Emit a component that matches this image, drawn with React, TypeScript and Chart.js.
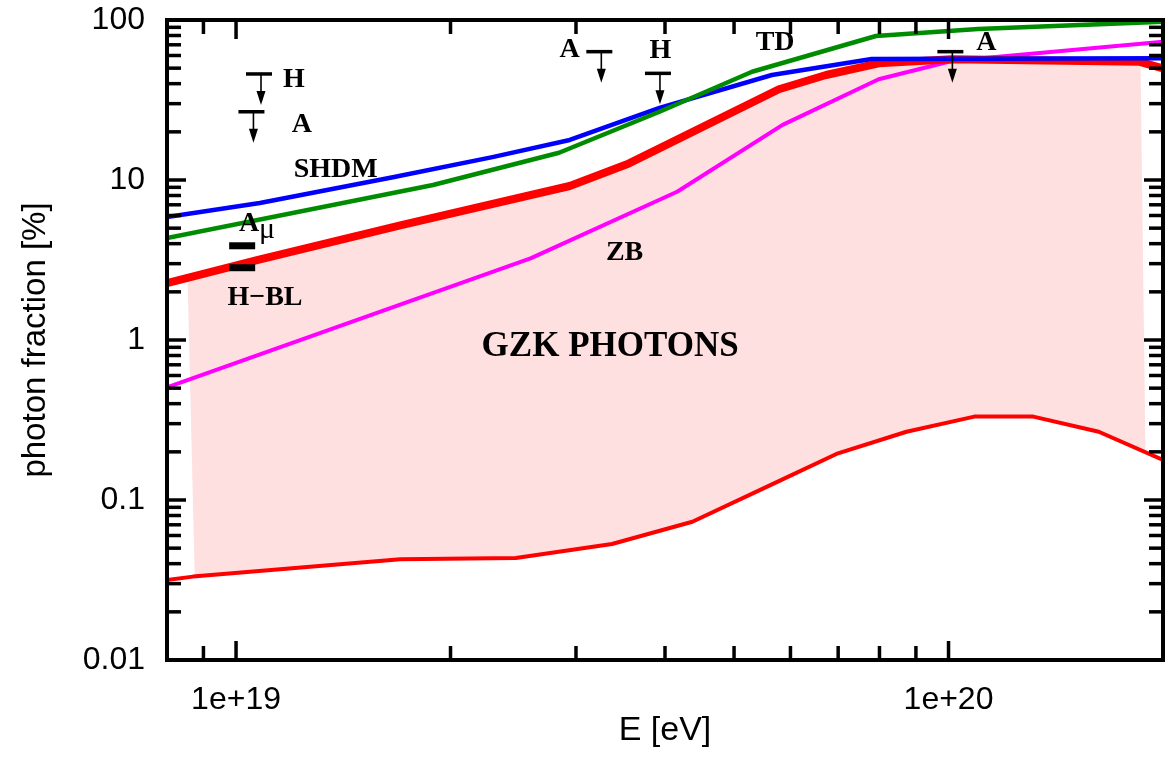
import React, { useEffect, useRef } from 'react';
import { Chart, registerables } from 'chart.js';

Chart.register(...registerables);

// ---- axis ranges / ticks ----
const xMin = 8e18;
const xMax = 2e20;
const yMin = 0.01;
const yMax = 100;
const xTickValues = [1e19, 1e20];
const xTickLabels = ['1e+19', '1e+20'];
const xMinorTicks = [9e18, 2e19, 3e19, 4e19, 5e19, 6e19, 7e19, 8e19, 9e19];
const yTickValues = [0.01, 0.1, 1, 10, 100];
const yTickLabels = ['0.01', '0.1', '1', '10', '100'];
const yMinorTicks = [
  0.02, 0.03, 0.04, 0.05, 0.06, 0.07, 0.08, 0.09,
  0.2, 0.3, 0.4, 0.5, 0.6, 0.7, 0.8, 0.9,
  2, 3, 4, 5, 6, 7, 8, 9,
  20, 30, 40, 50, 60, 70, 80, 90,
];

// ---- series (E in eV, photon fraction in %) ----
const shdmE = [8.0e18, 1.08e19, 1.66e19, 2.29e19, 2.94e19, 3.93e19, 5.65e19, 7.8e19, 2.0e20];
const shdmF = [5.87, 7.18, 10.4, 13.9, 17.8, 28.2, 45.3, 57.0, 57.6];

const tdE = [8.0e18, 1.89e19, 2.84e19, 3.93e19, 5.3e19, 7.91e19, 1.1e20, 2.0e20];
const tdF = [4.34, 9.31, 14.8, 26.7, 47.5, 79.4, 88.0, 97.6];

const gzkUpperE = [8.0e18, 1.07e19, 1.7e19, 2.94e19, 3.56e19, 5.78e19, 6.73e19, 7.98e19, 1.01e20, 1.85e20, 2.0e20];
const gzkUpperF = [2.27, 3.16, 5.2, 9.17, 12.7, 36.9, 45.3, 53.6, 56.8, 54.9, 49.9];

const zbE = [8.0e18, 2.59e19, 4.16e19, 5.85e19, 7.98e19, 1.01e20, 2.0e20];
const zbF = [0.505, 3.24, 8.45, 22.1, 42.6, 55.4, 73.1];

const gzkLowerE = [8.0e18, 8.7e18, 1.7e19, 2.47e19, 3.37e19, 4.37e19, 5.71e19, 6.96e19, 8.73e19, 1.087e20, 1.315e20, 1.625e20, 2.0e20];
const gzkLowerF = [0.0316, 0.0332, 0.0426, 0.0434, 0.0531, 0.0731, 0.128, 0.194, 0.267, 0.332, 0.332, 0.267, 0.178];

// shaded GZK band outline (upper edge left->right, lower edge right->left)
const bandE = [8.55e18, 1.07e19, 1.7e19, 2.94e19, 3.56e19, 5.78e19, 6.73e19, 7.98e19, 1.01e20, 1.86e20,
  1.89e20, 1.625e20, 1.315e20, 1.087e20, 8.73e19, 6.96e19, 5.71e19, 4.37e19, 3.37e19, 2.47e19, 1.7e19, 8.75e18];
const bandF = [2.4, 3.16, 5.2, 9.17, 12.7, 36.9, 45.3, 53.6, 56.8, 54.9,
  0.2, 0.267, 0.332, 0.332, 0.267, 0.194, 0.128, 0.0731, 0.0531, 0.0434, 0.0426, 0.0335];

// ---- experimental upper limits ----
const limitE = [1.077e19, 1.051e19, 3.235e19, 3.91e19, 1.006e20];
const limitF = [46.0, 26.7, 63.4, 46.4, 63.4];
const boxLimitE = [1.02e19, 1.02e19];
const boxLimitF = [3.88, 2.83];

// ---- text labels ----
const labelText = ['H', 'A', 'SHDM', 'H\u2212BL', 'A', 'H', 'TD', 'A', 'ZB'];
const labelE = [1.206e19, 1.237e19, 1.38e19, 1.098e19, 2.94e19, 3.94e19, 5.71e19, 1.13e20, 3.51e19];
const labelF = [42.2, 22.1, 11.55, 1.83, 64.9, 64.0, 71.8, 71.8, 3.5];
const bigLabelText = 'GZK PHOTONS';
const bigLabelE = 3.35e19;
const bigLabelF = 0.904;
const aMuE = 1.043e19;
const aMuF = 5.31;
const muE = 1.105e19;
const muF = 4.85;

const pts = (xs: number[], ys: number[]) => xs.map((x, i) => ({ x, y: ys[i] }));

const sansFont = '"Liberation Sans", Arial, Helvetica, sans-serif';
const serifFont = '"Liberation Serif", "Times New Roman", serif';

const framePlugin = {
  id: 'frameAndNotes',
  afterDatasetsDraw(chart: any) {
    const { ctx, chartArea: a, scales } = chart;
    const xs = scales.x;
    const ys = scales.y;
    const MAJ = 19;
    const MIN = 14;
    ctx.save();
    ctx.strokeStyle = '#000';
    ctx.fillStyle = '#000';
    ctx.lineCap = 'butt';
    const seg = (x1: number, y1: number, x2: number, y2: number) => {
      ctx.beginPath();
      ctx.moveTo(x1, y1);
      ctx.lineTo(x2, y2);
      ctx.stroke();
    };
    ctx.lineWidth = 3.5;
    for (const v of yMinorTicks) {
      const y = ys.getPixelForValue(v);
      seg(a.left, y, a.left + MIN, y);
      seg(a.right, y, a.right - MIN, y);
    }
    for (const v of yTickValues) {
      const y = ys.getPixelForValue(v);
      seg(a.left, y, a.left + MAJ, y);
      seg(a.right, y, a.right - MAJ, y);
    }
    for (const v of xMinorTicks) {
      const x = xs.getPixelForValue(v);
      seg(x, a.bottom, x, a.bottom - MIN);
      seg(x, a.top, x, a.top + MIN);
    }
    for (const v of xTickValues) {
      const x = xs.getPixelForValue(v);
      seg(x, a.bottom, x, a.bottom - MAJ);
      seg(x, a.top, x, a.top + MAJ);
    }
    ctx.lineWidth = 4;
    ctx.strokeRect(a.left, a.top, a.right - a.left, a.bottom - a.top);

    // upper limits: bar + arrow
    for (let i = 0; i < limitE.length; i++) {
      const x = xs.getPixelForValue(limitE[i]);
      const y = ys.getPixelForValue(limitF[i]);
      ctx.lineWidth = 3.5;
      seg(x - 13, y, x + 13, y);
      ctx.lineWidth = 1.6;
      seg(x + 2, y, x + 2, y + 20);
      ctx.beginPath();
      ctx.moveTo(x - 2.5, y + 17);
      ctx.lineTo(x + 6.5, y + 17);
      ctx.lineTo(x + 2, y + 31);
      ctx.closePath();
      ctx.fill();
    }
    for (let i = 0; i < boxLimitE.length; i++) {
      const x = xs.getPixelForValue(boxLimitE[i]);
      const y = ys.getPixelForValue(boxLimitF[i]);
      ctx.fillRect(x - 13, y - 3.5, 26, 7);
    }

    // labels
    ctx.textAlign = 'center';
    ctx.textBaseline = 'middle';
    ctx.font = `bold 28px ${serifFont}`;
    for (let i = 0; i < labelText.length; i++) {
      ctx.fillText(labelText[i], xs.getPixelForValue(labelE[i]), ys.getPixelForValue(labelF[i]));
    }
    ctx.fillText('A', xs.getPixelForValue(aMuE), ys.getPixelForValue(aMuF));
    ctx.font = `30px ${serifFont}`;
    ctx.fillText('\u03bc', xs.getPixelForValue(muE), ys.getPixelForValue(muF));
    ctx.font = `bold 35px ${serifFont}`;
    ctx.fillText(bigLabelText, xs.getPixelForValue(bigLabelE), ys.getPixelForValue(bigLabelF));
    ctx.restore();
  },
};

export default function App() {
  const canvasRef = useRef<HTMLCanvasElement | null>(null);

  useEffect(() => {
    const canvas = canvasRef.current;
    if (!canvas) return;
    const line = (label: string, xs: number[], ys: number[], color: string, width: number, order: number) => ({
      label,
      data: pts(xs, ys),
      showLine: true,
      borderColor: color,
      backgroundColor: color,
      borderWidth: width,
      pointRadius: 0,
      pointHoverRadius: 0,
      fill: false,
      tension: 0,
      borderJoinStyle: 'round' as const,
      order,
    });
    const chart = new Chart(canvas, {
      type: 'scatter',
      data: {
        datasets: [
          {
            label: 'GZK band',
            data: pts(bandE, bandF),
            showLine: true,
            borderWidth: 0,
            borderColor: 'rgba(0,0,0,0)',
            backgroundColor: '#ffe0e0',
            pointRadius: 0,
            fill: 'shape',
            tension: 0,
            order: 10,
          } as any,
          line('GZK lower', gzkLowerE, gzkLowerF, '#ff0000', 4, 6),
          line('ZB', zbE, zbF, '#ff00ff', 4, 5),
          line('GZK upper', gzkUpperE, gzkUpperF, '#ff0000', 8, 4),
          line('SHDM', shdmE, shdmF, '#0000ff', 4.5, 3),
          line('TD', tdE, tdF, '#008c00', 4.5, 2),
        ],
      },
      options: {
        animation: false,
        responsive: true,
        maintainAspectRatio: false,
        layout: { padding: { top: 20, right: 4, left: 0, bottom: 0 } },
        plugins: {
          legend: { display: false },
          tooltip: { enabled: false },
        },
        scales: {
          x: {
            type: 'logarithmic',
            min: xMin,
            max: xMax,
            afterBuildTicks: (s: any) => {
              s.ticks = xTickValues.map((v) => ({ value: v }));
            },
            afterFit: (s: any) => {
              s.height = 99;
              s.paddingLeft = 0;
              s.paddingRight = 0;
            },
            grid: { display: false, drawTicks: false },
            border: { display: false },
            ticks: {
              autoSkip: false,
              maxRotation: 0,
              padding: 21,
              color: '#000',
              font: { family: sansFont, size: 32 },
              callback: (v: any) => {
                const i = xTickValues.findIndex((t) => Math.abs(Math.log10(t) - Math.log10(Number(v))) < 1e-6);
                return i >= 0 ? xTickLabels[i] : '';
              },
            },
            title: {
              display: true,
              text: 'E [eV]',
              color: '#000',
              font: { family: sansFont, size: 34 },
              padding: { top: 0, bottom: 8 },
            },
          },
          y: {
            type: 'logarithmic',
            min: yMin,
            max: yMax,
            afterBuildTicks: (s: any) => {
              s.ticks = yTickValues.map((v) => ({ value: v }));
            },
            afterFit: (s: any) => {
              s.width = 167;
              s.paddingTop = 0;
              s.paddingBottom = 0;
            },
            grid: { display: false, drawTicks: false },
            border: { display: false },
            ticks: {
              autoSkip: false,
              padding: 22,
              color: '#000',
              font: { family: sansFont, size: 32 },
              callback: (v: any) => {
                const i = yTickValues.findIndex((t) => Math.abs(Math.log10(t) - Math.log10(Number(v))) < 1e-6);
                return i >= 0 ? yTickLabels[i] : '';
              },
            },
            title: {
              display: true,
              text: 'photon fraction [%]',
              color: '#000',
              font: { family: sansFont, size: 33 },
              padding: { top: 16, bottom: 0 },
            },
          },
        },
      },
      plugins: [framePlugin],
    });
    return () => chart.destroy();
  }, []);

  return (
    <div style={{ position: 'fixed', left: 0, top: 0, width: 1167, height: 759, background: '#fff' }}>
      <canvas ref={canvasRef} />
    </div>
  );
}
